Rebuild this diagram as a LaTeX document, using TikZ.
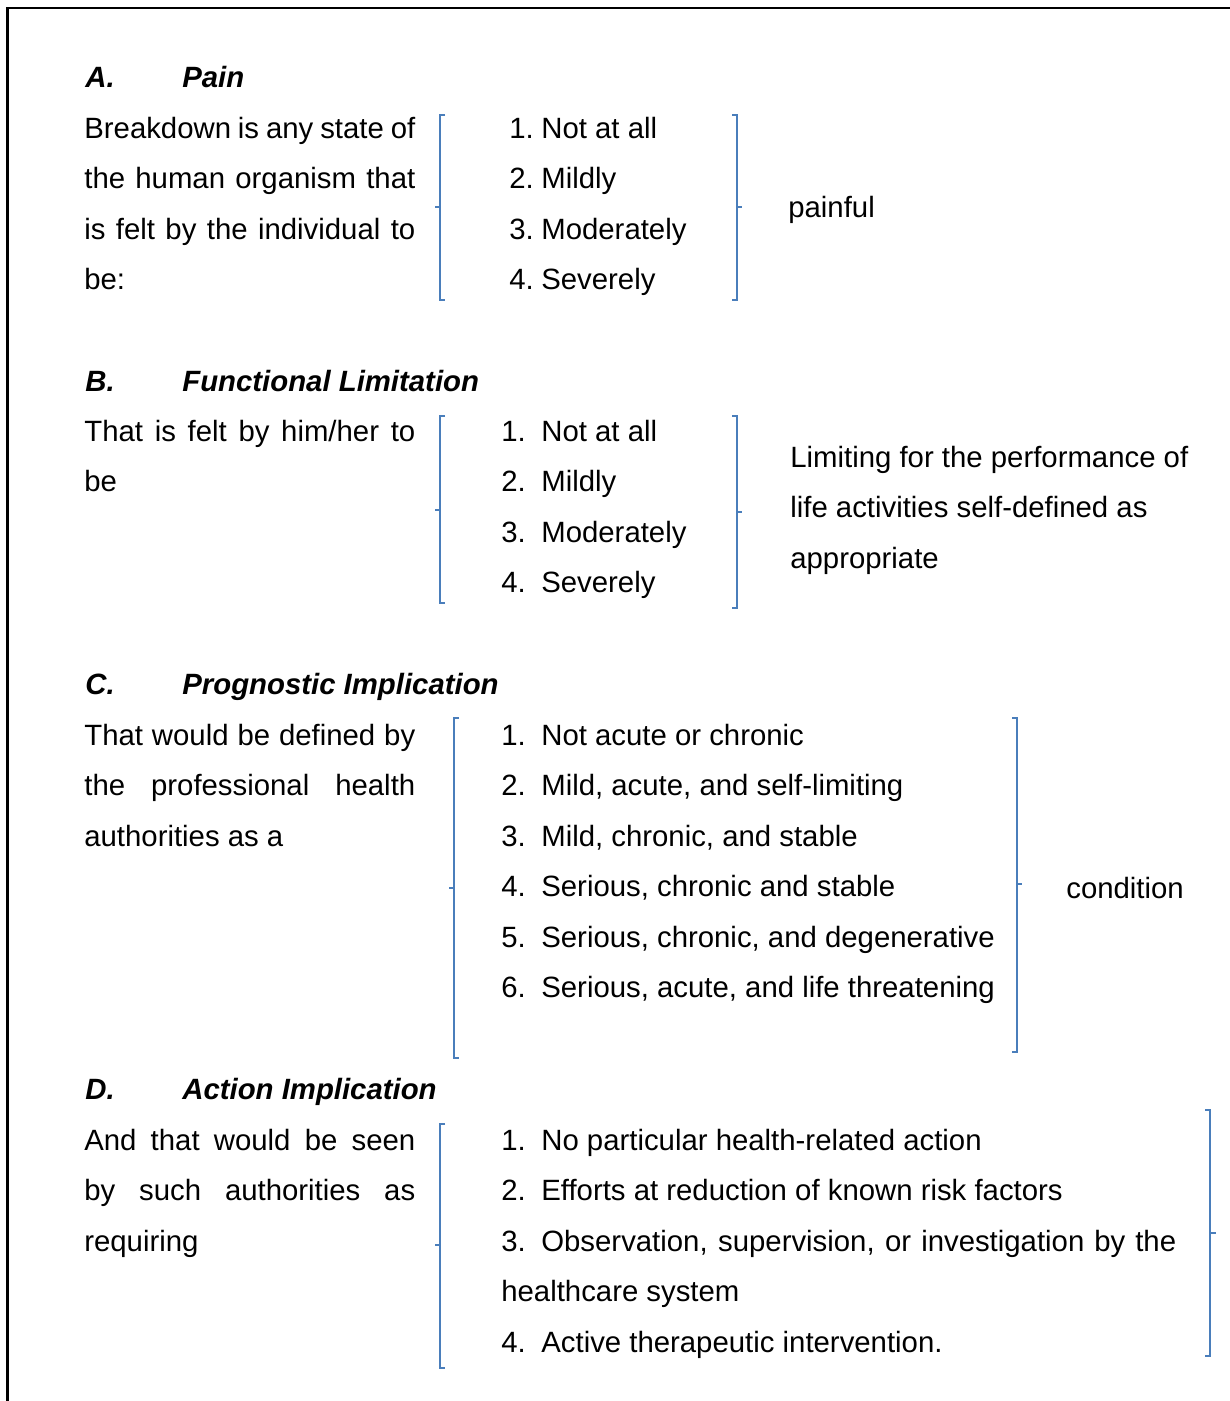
\documentclass[tikz,border=0pt]{standalone}
\usepackage{fontspec}
\setmainfont{Liberation Sans}
\usetikzlibrary{positioning}
\definecolor{bracketblue}{HTML}{4A7EBB}
\newcommand\bodysize{\fontsize{16.7pt}{20pt}\selectfont}
\newcommand\jline[1]{\makebox[6.62cm][s]{#1}}
\tikzset{
  txt/.style={anchor=base west,inner sep=0pt,font=\bodysize},
  head/.style={txt,font=\bodysize\bfseries\itshape},
  brack/.style={bracketblue,line width=0.85pt},
}
\begin{document}
\begin{tikzpicture}[x=0.02cm,y=-0.02cm]
  \useasboundingbox (0,0) rectangle (1230,1401);
  \draw[line width=1.5pt] (7.5,1401) -- (7.5,8) -- (1230,8);

  % A. Pain
  \node[head] (hA) at (85,87) {A.};
  \node[head] (tA) at (182,87) {Pain};
  \node[txt] (lA1) at (84,138) {\jline{Breakdown is any state of}};
  \node[txt] (lA2) at (84,188.5) {\jline{the human organism that}};
  \node[txt] (lA3) at (84,239) {\jline{is felt by the individual to}};
  \node[txt] (lA4) at (84,289.5) {be:};
  \foreach \t [count=\i] in {Not at all,Mildly,Moderately,Severely} {
    \node[txt] (nA\i) at (509,{138+(\i-1)*50.5}) {\i.};
    \node[txt] (iA\i) at (541,{138+(\i-1)*50.5}) {\t};
  }
  \draw[brack] (445,115) -- (440,115) -- (440,300) -- (445,300) (440,207) -- (435,207);
  \draw[brack] (732,115) -- (737,115) -- (737,300) -- (732,300) (737,207) -- (742,207);
  \node[txt] (rA) at (788,217) {painful};

  % B. Functional Limitation
  \node[head] (hB) at (85,391) {B.};
  \node[head] (tB) at (182,391) {Functional Limitation};
  \node[txt] (lB1) at (84,441) {\jline{That is felt by him/her to}};
  \node[txt] (lB2) at (84,491.5) {be};
  \foreach \t [count=\i] in {Not at all,Mildly,Moderately,Severely} {
    \node[txt] (nB\i) at (501,{441+(\i-1)*50.5}) {\i.};
    \node[txt] (iB\i) at (541,{441+(\i-1)*50.5}) {\t};
  }
  \draw[brack] (445,416) -- (440,416) -- (440,603) -- (445,603) (440,510) -- (435,510);
  \draw[brack] (732,416) -- (737,416) -- (737,608) -- (732,608) (737,512) -- (742,512);
  \node[txt] (rB1) at (790,467) {Limiting for the performance of};
  \node[txt] (rB2) at (790,517.5) {life activities self-defined as};
  \node[txt] (rB3) at (790,568) {appropriate};

  % C. Prognostic Implication
  \node[head] (hC) at (85,694) {C.};
  \node[head] (tC) at (182,694) {Prognostic Implication};
  \node[txt] (lC1) at (84,745) {\jline{That would be defined by}};
  \node[txt] (lC2) at (84,795.5) {\jline{the professional health}};
  \node[txt] (lC3) at (84,846) {authorities as a};
  \foreach \t [count=\i] in {Not acute or chronic,{Mild, acute, and self-limiting},
      {Mild, chronic, and stable},{Serious, chronic and stable},
      {Serious, chronic, and degenerative},{Serious, acute, and life threatening}} {
    \node[txt] (nC\i) at (501,{745+(\i-1)*50.5}) {\i.};
    \node[txt] (iC\i) at (541,{745+(\i-1)*50.5}) {\t};
  }
  \draw[brack] (459,718) -- (454,718) -- (454,1058) -- (459,1058) (454,888) -- (449,888);
  \draw[brack] (1012,718) -- (1017,718) -- (1017,1052) -- (1012,1052) (1017,884) -- (1022,884);
  \node[txt] (rC) at (1066,898) {condition};

  % D. Action Implication
  \node[head] (hD) at (85,1099) {D.};
  \node[head] (tD) at (182,1099) {Action Implication};
  \node[txt] (lD1) at (84,1150) {\jline{And that would be seen}};
  \node[txt] (lD2) at (84,1200.5) {\jline{by such authorities as}};
  \node[txt] (lD3) at (84,1251) {requiring};
  \node[txt] (nD1) at (501,1150) {1.};
  \node[txt] (iD1) at (541,1150) {No particular health-related action};
  \node[txt] (nD2) at (501,1200.5) {2.};
  \node[txt] (iD2) at (541,1200.5) {Efforts at reduction of known risk factors};
  \node[txt] (nD3) at (501,1251) {3.};
  \node[txt] (iD3) at (541,1251) {\makebox[12.7cm][s]{Observation, supervision, or investigation by the}};
  \node[txt] (iD3b) at (501,1301.5) {healthcare system};
  \node[txt] (nD4) at (501,1352) {4.};
  \node[txt] (iD4) at (541,1352) {Active therapeutic intervention.};
  \draw[brack] (445,1124) -- (440,1124) -- (440,1368) -- (445,1368) (440,1245) -- (435,1245);
  \draw[brack] (1205,1110) -- (1210,1110) -- (1210,1356) -- (1205,1356) (1210,1233) -- (1216,1233);
\end{tikzpicture}
\end{document}
